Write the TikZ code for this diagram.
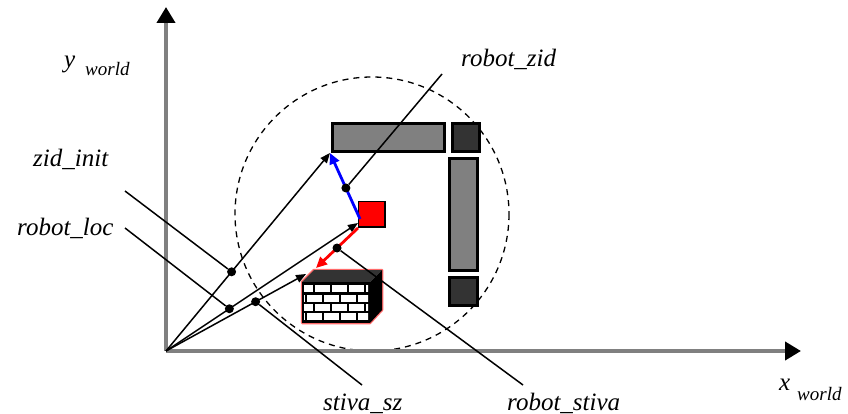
\documentclass[tikz,border=0pt]{standalone}
\usepackage{fontspec}
\setmainfont{Liberation Serif}
\usetikzlibrary{arrows.meta,calc}
\definecolor{axisgrey}{HTML}{808080}
\definecolor{wallgrey}{HTML}{808080}
\definecolor{walldark}{HTML}{333333}
\definecolor{robotred}{HTML}{FF0000}
\definecolor{brickglow}{HTML}{FF6A6A}
\definecolor{movblue}{HTML}{0000FF}
\newcommand{\labelfont}{\fontsize{25}{30}\selectfont\itshape}
\newcommand{\subfont}{\fontsize{19}{23}\selectfont\itshape}
\newcommand{\brickrow}[2]{%
  \foreach \bx in {0,...,4}{%
    \fill[white] ({#2+\bx*17},#1) rectangle ++(15,7);
  }%
}
\tikzset{
  axis/.style={axisgrey,line width=4pt,-{Triangle[length=16pt,width=18pt,color=black]}},
  vec/.style={black,line width=1.5pt,-{Triangle[length=10pt,width=8pt]}},
  move/.style={line width=2.8pt,-{Triangle[length=11pt,width=10pt]}},
  lead/.style={black,line width=1.5pt},
  dot/.style={circle,fill=black,inner sep=0pt,minimum size=9pt},
  wall/.style={draw=black,line width=3pt},
  lbl/.style={inner sep=0pt,font=\labelfont},
  sub/.style={inner sep=0pt,font=\subfont},
}

\begin{document}
\begin{tikzpicture}[x=1pt,y=-1pt]
  \useasboundingbox (0,0) rectangle (848,414);

  % range of the robot
  \draw[line width=1.3pt,dash pattern=on 6pt off 5pt] (372,214) circle[radius=137];

  % wall pieces
  \filldraw[wall,fill=wallgrey] (332.5,123.5) rectangle (444.5,151.5);
  \filldraw[wall,fill=walldark] (452.5,123.5) rectangle (479.5,151.5);
  \filldraw[wall,fill=wallgrey] (449.5,158.5) rectangle (477.5,270.5);
  \filldraw[wall,fill=walldark] (449.5,277.5) rectangle (477.5,305.5);

  % brick stack
  \draw[brickglow,line width=2.5pt,line join=round]
    (302,323) -- (302,282) -- (314,270) -- (382,270) -- (382,310) -- (370,323) -- cycle;
  \fill[walldark] (302,282) -- (314,270) -- (382,270) -- (370,282) -- cycle;
  \fill[black] (370,282) -- (382,270) -- (382,310) -- (370,323) -- cycle;
  \fill[black] (302,282) rectangle (370,323);
  \begin{scope}
    \clip (304,284) rectangle (368,321);
    \brickrow{285}{298}
    \brickrow{295}{290}
    \brickrow{304}{298}
    \brickrow{313}{290}
  \end{scope}

  % robot
  \filldraw[fill=robotred,draw=black,line width=1.5pt] (358.5,201.5) rectangle (385,227);

  % axes
  \coordinate (O) at (166,351);
  \coordinate (xend) at (801,351);
  \coordinate (yend) at (166,7);
  \draw[axis] (O) -- (xend);
  \draw[axis] (O) -- (yend);

  % position vectors
  \coordinate (zid) at (330,153);
  \coordinate (robot) at (358,223);
  \coordinate (stiva) at (306,274);
  \draw[vec] (O) -- (zid);
  \draw[vec] (O) -- (robot);
  \draw[vec] (O) -- (stiva);

  % robot to wall and robot to stack
  \coordinate (rb) at (360,219);
  \coordinate (rr) at (358,228);
  \coordinate (rt) at (316,268);
  \draw[move,movblue] (rb) -- (zid);
  \draw[move,robotred] (rr) -- (rt);

  % marks on the vectors
  \node[dot] (dzid) at ($(O)!0.4!(zid)$) {};
  \node[dot] (drob) at ($(O)!0.33!(robot)$) {};
  \node[dot] (dstv) at ($(O)!0.64!(stiva)$) {};
  \node[dot] (dblue) at ($(rb)!0.47!(zid)$) {};
  \node[dot] (dred) at ($(rr)!0.5!(rt)$) {};

  % leader lines
  \coordinate (zidinitend) at (125,191);
  \coordinate (robotlocend) at (125,228);
  \coordinate (robotzidend) at (442,74);
  \coordinate (stivaszend) at (362,385);
  \coordinate (robotstivaend) at (523,385);
  \draw[lead] (zidinitend) -- (dzid);
  \draw[lead] (robotlocend) -- (drob);
  \draw[lead] (dblue) -- (robotzidend);
  \draw[lead] (dstv) -- (stivaszend);
  \draw[lead] (dred) -- (robotstivaend);

  % labels
  \node[lbl,anchor=base west] (ylbl) at (64,68) {y};
  \node[sub,anchor=base west] (yworld) at (85,76) {world};
  \node[lbl,anchor=base west] (xlbl) at (779,390) {x};
  \node[sub,anchor=base west] (xworld) at (797,400) {world};
  \node[lbl,anchor=base west] (robotzid) at (461,67) {robot\_zid};
  \node[lbl,anchor=base west] (zidinit) at (33,167) {zid\_init};
  \node[lbl,anchor=base west] (robotloc) at (17,235) {robot\_loc};
  \node[lbl,anchor=base west] (stivasz) at (323,410) {stiva\_sz};
  \node[lbl,anchor=base west] (robotstiva) at (507,410) {robot\_stiva};
\end{tikzpicture}
\end{document}
